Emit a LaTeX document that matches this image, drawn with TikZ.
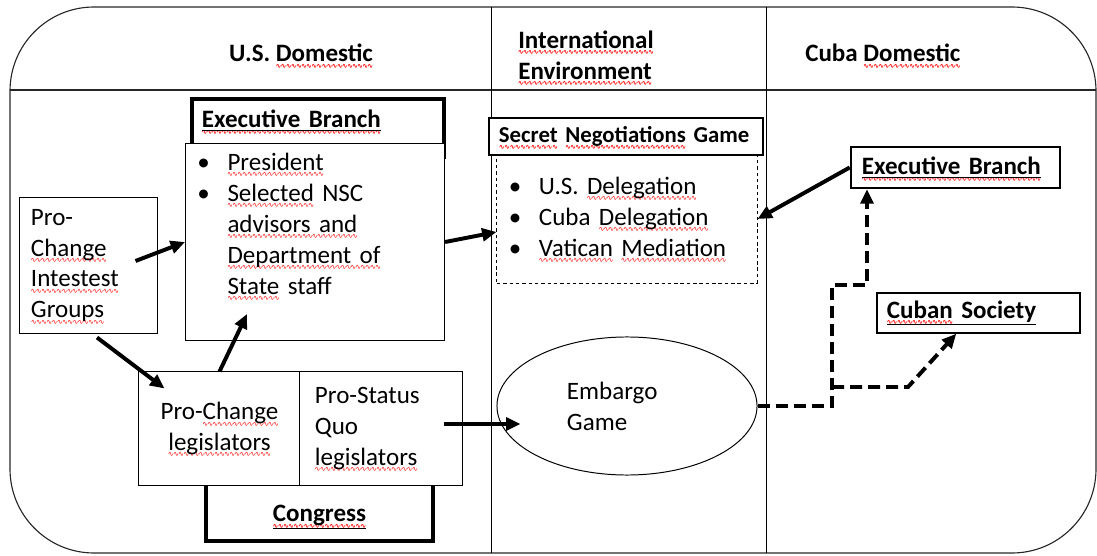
\documentclass[tikz,border=0pt]{standalone}
\usepackage{fontspec}
\setmainfont{Carlito}
\newfontfamily\wavefont{DejaVu Sans}
\usetikzlibrary{arrows.meta,shapes.geometric}

\newcommand{\bodysize}{\fontsize{17.8pt}{22pt}\selectfont}
\newcommand{\spellwave}[1]{\leavevmode\setbox0\hbox{#1}\rlap{\raisebox{-4.6pt}[0pt][0pt]{\hbox to\wd0{\color{red}\wavefont\fontsize{5pt}{5pt}\selectfont\xleaders\hbox{\kern-0.35pt ∿\kern-0.35pt}\hfill}}}\box0\relax}

\tikzstyle{every node}=[font=\bodysize]
\tikzstyle{box}=[draw,black,line width=0.7pt,fill=white,inner ysep=0pt,align=left]
\tikzstyle{hdrbox}=[draw,black,line width=2.8pt,fill=white,inner ysep=0pt,align=left,font=\bodysize\bfseries]
\tikzstyle{head}=[inner sep=0pt,align=left,font=\bodysize\bfseries]
\tikzstyle{title}=[font=\bodysize\bfseries]
\tikzstyle{link}=[line width=2.8pt,-{Triangle[length=0.36cm,width=0.32cm]}]
\tikzstyle{dashlink}=[link,dash pattern=on 0.3cm off 0.15cm]

\begin{document}
\begin{tikzpicture}[x=0.025cm,y=-0.025cm]
    \useasboundingbox (0,0) rectangle (1097,556);

    \draw[black!85,line width=0.8pt,rounded corners=2.1cm] (10,7) rectangle (1096,553);
    \draw[black!85,line width=0.8pt] (10,90) -- (1096,90);
    \draw[black,line width=0.7pt] (491,7) -- (491,553);
    \draw[black,line width=0.7pt] (766,7) -- (766,553);

    \node (usdom)[head] at (301,53) {U.S. \spellwave{Domestic}};
    \node (intenv)[head,anchor=west] at (518,55) {\spellwave{International}\\\spellwave{Environment}};
    \node (cubadom)[head,anchor=west] at (805,53) {Cuba \spellwave{Domestic}};

    \node (usexechead)[hdrbox,anchor=north west,text width=5.8cm,inner xsep=0.25cm,text height=0.725cm,text depth=0.725cm] at (190,97) {\underline{\spellwave{Executive Branch}}};
    \node (usexec)[box,anchor=north west,text width=5.875cm,inner xsep=0.3cm,text height=0.675cm,text depth=4.25cm] at (185,143) {%
        \begin{tabular}[t]{@{}p{0.75cm}@{}l@{}}
            \textbullet & \spellwave{President}\\
            \textbullet & \spellwave{Selected} NSC\\
                        & \spellwave{advisors and}\\
                        & \spellwave{Department of}\\
                        & \spellwave{State} staff
        \end{tabular}};

    \node (groups)[box,minimum height=3.375cm,text width=2.875cm,inner xsep=0.275cm] at (88.5,265.5) {Pro-\\\spellwave{Change}\\\spellwave{Intestest}\\\spellwave{Groups}};

    \node (congress)[hdrbox,anchor=north,minimum width=5.675cm,inner xsep=0pt,text height=1cm,text depth=0.475cm,align=center] at (319.5,480) {\underline{\spellwave{Congress}}};
    \node (prolegis)[box,minimum width=4.025cm,minimum height=2.825cm,inner sep=0pt,align=center] at (219.5,428.5) {Pro-\spellwave{Change}\\\spellwave{legislators}};
    \node (statusquo)[box,minimum height=2.825cm,text width=3.3cm,inner xsep=0.375cm] at (381,428.5) {Pro-Status\\Quo\\\spellwave{legislators}};

    \node (secretgame)[box,dash pattern=on 2.5pt off 2pt,minimum height=3.2cm,text width=5.9cm,inner xsep=0.3cm] at (627,219) {%
        \begin{tabular}{@{}p{0.75cm}@{}l@{}}
            \textbullet & U.S. \spellwave{Delegation}\\
            \textbullet & Cuba \spellwave{Delegation}\\
            \textbullet & \spellwave{Vatican} \spellwave{Mediation}
        \end{tabular}};
    \node (secrethead)[box,line width=1.4pt,minimum height=0.925cm,text width=6.35cm,inner xsep=0.25cm,font=\fontsize{16.2pt}{20pt}\selectfont\bfseries] at (626,136.5) {\spellwave{Secret} \spellwave{Negotiations} Game};

    \node (embargo)[draw,ellipse,line width=0.7pt,minimum width=6.5cm,minimum height=3.45cm,inner sep=0pt,text width=3cm,align=left] at (627,406) {Embargo\\Game};

    \node (cubaexec)[box,title,line width=1.8pt,minimum height=1.025cm,text width=4.675cm,inner xsep=0.275cm] at (955.5,167.5) {\underline{\spellwave{Executive Branch}}};
    \node (cubasoc)[box,title,line width=1pt,minimum height=1cm,text width=4.575cm,inner xsep=0.25cm] at (978.5,313) {\underline{\spellwave{Cuban} Society}};

    \coordinate (upbend) at (832,285);
    \coordinate (fork) at (832,387);
    \coordinate (knee) at (908,387);

    \draw[link] ([shift={(-22,-4.5)}]groups.east) -- (usexec.west);
    \draw[link] ([shift={(8.5,4)}]groups.south) -- ([shift={(26,17)}]prolegis.north west);
    \draw[link] (prolegis.north) -- ([shift={(62,-27)}]usexec.south west);
    \draw[link] (usexec.east) -- ([shift={(0,13)}]secretgame.west);
    \draw[link] (cubaexec.west) -- (secretgame.east);
    \draw[link] ([shift={(-19,-4.5)}]statusquo.east) -- ([shift={(24,18)}]embargo.west);

    \draw[dashlink] (embargo.east) -| (upbend) -| ([shift={(-88.5,0)}]cubaexec.south);
    \draw[dashlink] (fork) -- (knee) -- ([shift={(80,0)}]cubasoc.south west);
\end{tikzpicture}
\end{document}
